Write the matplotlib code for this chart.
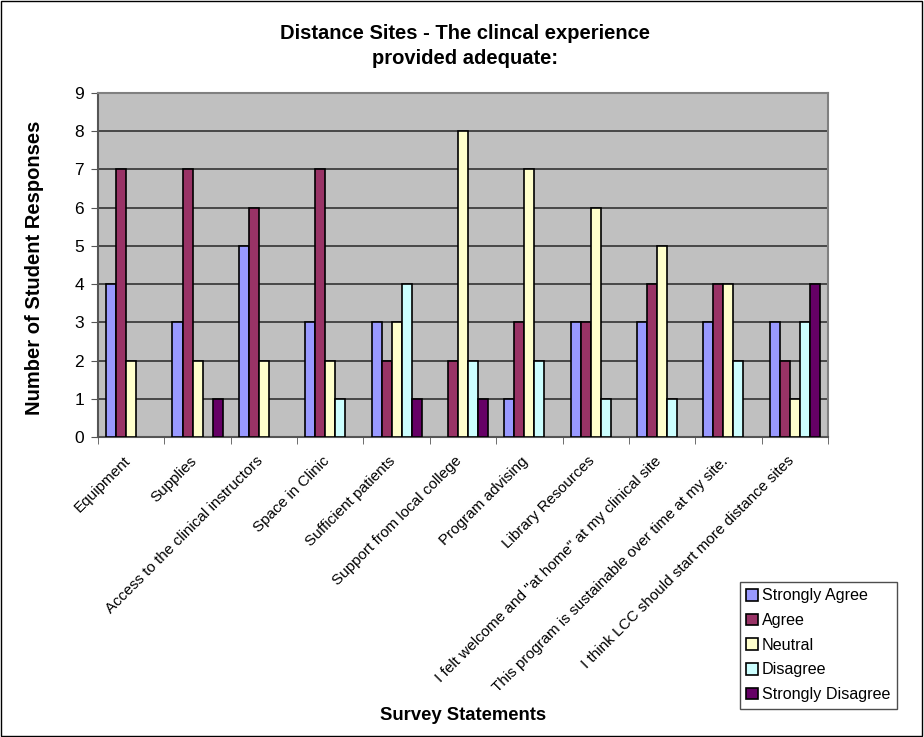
import matplotlib
matplotlib.use("Agg")
import matplotlib.pyplot as plt
import numpy as np
from matplotlib.patches import Rectangle, Patch
from matplotlib.transforms import ScaledTranslation

plt.rcParams['font.family'] = ['Liberation Sans', 'DejaVu Sans']

categories = [
    "Equipment",
    "Supplies",
    "Access to the clinical instructors",
    "Space in Clinic",
    "Sufficient patients",
    "Support from local college",
    "Program advising",
    "Library Resources",
    "I felt welcome and \"at home\" at my clinical site",
    "This program is sustainable over time at my site.",
    "I think LCC should start more distance sites",
]
strongly_agree = [4, 3, 5, 3, 3, 0, 1, 3, 3, 3, 3]
agree = [7, 7, 6, 7, 2, 2, 3, 3, 4, 4, 2]
neutral = [2, 2, 2, 2, 3, 8, 7, 6, 5, 4, 1]
disagree = [0, 0, 0, 1, 4, 2, 2, 1, 1, 2, 3]
strongly_disagree = [0, 1, 0, 0, 1, 1, 0, 0, 0, 0, 4]

series_names = ["Strongly Agree", "Agree", "Neutral", "Disagree", "Strongly Disagree"]
series_values = [strongly_agree, agree, neutral, disagree, strongly_disagree]
colors = ["#9999FF", "#993366", "#FFFFCC", "#CCFFFF", "#660066"]

fig = plt.figure(figsize=(9.24, 7.37), dpi=100)
ax = fig.add_axes([98/924, 1 - 437/737, (828 - 98)/924, (437 - 93)/737])
ax.set_facecolor("#C0C0C0")

n = len(categories)
x = np.arange(n)
bw = 0.151
offsets = (np.arange(5) - 2) * bw
for name, vals, col, off in zip(series_names, series_values, colors, offsets):
    # empty bars get no outline so nothing shows along the baseline
    lws = [1.2 if v > 0 else 0 for v in vals]
    ax.bar(x + off, vals, width=bw, color=col, edgecolor="black", linewidth=lws,
           zorder=3)

ax.set_xlim(-0.5, n - 0.5)
ax.set_ylim(0, 9)
ax.set_yticks(range(0, 10))
ax.yaxis.grid(True, color="#333333", linewidth=1.2, zorder=1)
ax.set_axisbelow(True)
ax.tick_params(axis="y", labelsize=12.5, length=5, direction="out", color="#555555", pad=5)

ax.set_xticks(x)
ax.set_xticklabels(categories, rotation=45, ha="right", rotation_mode="anchor", fontsize=11)
ax.tick_params(axis="x", which="major", length=0, pad=10)
ax.set_xticks(np.arange(-0.5, n, 1.0), minor=True)
ax.tick_params(axis="x", which="minor", length=5, direction="out", color="#555555")
shift = ScaledTranslation(-8/100, -3/100, fig.dpi_scale_trans)
for lbl in ax.get_xticklabels():
    lbl.set_transform(lbl.get_transform() + shift)

for side in ["top", "right"]:
    ax.spines[side].set_color("#808080")
    ax.spines[side].set_linewidth(1.5)
for side in ["left", "bottom"]:
    ax.spines[side].set_color("#555555")
    ax.spines[side].set_linewidth(1.5)

fig.text(465/924, 1 - 46/737, "Distance Sites - The clincal experience\nprovided adequate:",
         ha="center", va="center", fontsize=14.5, fontweight="bold", linespacing=1.45)
fig.text(35/924, 1 - 268/737, "Number of Student Responses", rotation=90,
         ha="center", va="center", fontsize=14.5, fontweight="bold")
fig.text(463/924, 1 - 715/737, "Survey Statements", ha="center", va="center",
         fontsize=13.3, fontweight="bold")

handles = [Patch(facecolor=c, edgecolor="black", linewidth=1.2) for c in colors]
leg = fig.legend(handles, series_names, loc="upper left",
                 bbox_to_anchor=(740/924, 1 - 582/737),
                 fontsize=11.6, frameon=True, fancybox=False, edgecolor="#222222",
                 handlelength=0.72, handleheight=0.72, handletextpad=0.25,
                 borderpad=0.4, labelspacing=0.6, borderaxespad=0)
leg.get_frame().set_linewidth(1.0)

fig.patches.append(Rectangle((0.001, 0.001), 0.997, 0.997, transform=fig.transFigure,
                             fill=False, edgecolor="black", linewidth=1.0))

fig.savefig("out.png", dpi=100)
